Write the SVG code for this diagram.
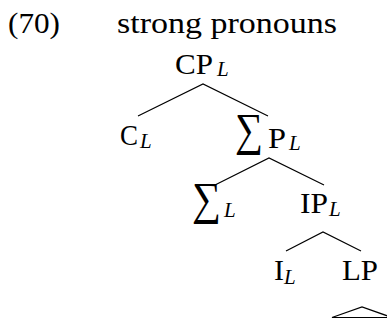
<svg xmlns="http://www.w3.org/2000/svg" width="387" height="320" viewBox="0 0 387 320">
<style>
text{font-family:"Liberation Serif","Times New Roman",serif;fill:#000}
.m{font-size:30px}
.s{font-size:21px;font-style:italic}
.sig{font-size:46px}
.e{stroke:#000;stroke-width:1.2;fill:none}
</style>
<rect width="387" height="320" fill="#fff"/>
<g id="title">
<text class="m" x="8" y="33" textLength="52" lengthAdjust="spacingAndGlyphs">(70)</text>
<text class="m" x="117" y="33" textLength="220" lengthAdjust="spacingAndGlyphs">strong pronouns</text>
</g>
<g id="CP"><text class="m" x="175" y="74" textLength="38" lengthAdjust="spacingAndGlyphs">CP</text><text class="s" x="217" y="76">L</text></g>
<g id="C"><text class="m" x="120" y="145" textLength="18" lengthAdjust="spacingAndGlyphs">C</text><text class="s" x="140" y="148">L</text></g>
<g id="SigmaP"><text class="sig" x="235" y="145" textLength="28" lengthAdjust="spacingAndGlyphs">∑</text><text class="m" x="268" y="148" textLength="18" lengthAdjust="spacingAndGlyphs">P</text><text class="s" x="289" y="150">L</text></g>
<g id="Sigma"><text class="sig" x="192" y="214" textLength="29" lengthAdjust="spacingAndGlyphs">∑</text><text class="s" x="224" y="217">L</text></g>
<g id="IP"><text class="m" x="300" y="213" textLength="28" lengthAdjust="spacingAndGlyphs">IP</text><text class="s" x="329" y="216">L</text></g>
<g id="I"><text class="m" x="274" y="280">I</text><text class="s" x="284" y="284">L</text></g>
<g id="LP"><text class="m" x="342" y="280" textLength="36" lengthAdjust="spacingAndGlyphs">LP</text></g>
<g id="edges">
<path class="e" d="M138,116 L203,84 L268,116"/>
<path class="e" d="M215,185 L269,158 L324,185"/>
<path class="e" d="M286,251 L323,232 L361,251"/>
<path class="e" d="M332,317.5 L362,307 L392,317.5 Z"/>
</g>
</svg>
